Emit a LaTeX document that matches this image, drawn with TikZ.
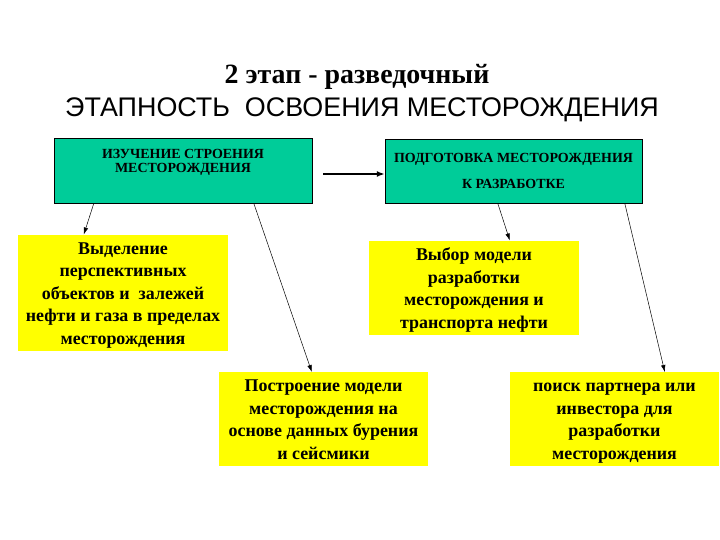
\documentclass[tikz,border=0pt]{standalone}
\usepackage{fontspec}
\setmainfont{Liberation Serif}
\setsansfont{Liberation Sans}
\usepackage{xcolor}
\usepackage{tikz}
\usetikzlibrary{arrows.meta}

\definecolor{fieldgreen}{RGB}{0,204,153}
\definecolor{noteyellow}{RGB}{255,255,0}

\tikzset{
  stagebox/.style={draw=black, fill=fieldgreen, minimum width=258bp, minimum height=64.5bp,
    inner sep=0pt, align=center, font=\bfseries\fontsize{14}{14}\selectfont},
  notebox/.style={fill=noteyellow, minimum width=210bp, inner sep=0pt, align=center,
    font=\bfseries\fontsize{18}{22.5}\selectfont},
  link/.style={->, >={Latex[length=7bp,width=4.5bp]}, line width=0.5bp},
}

\begin{document}
\begin{tikzpicture}[x=1bp,y=-1bp]
\useasboundingbox[fill=white] (0,0) rectangle (720,540);

% titles
\node[font=\bfseries\fontsize{28}{30}\selectfont] (stage) at (357,77) {2 этап - разведочный};
\node[font=\sffamily\fontsize{27}{30}\selectfont] (title) at (362,110) {ЭТАПНОСТЬ\ \ ОСВОЕНИЯ МЕСТОРОЖДЕНИЯ};

% green stages
\node[stagebox, anchor=north, text height=33.5bp, text depth=31bp] (izuch) at (183,138.5)
  {ИЗУЧЕНИЕ СТРОЕНИЯ\\МЕСТОРОЖДЕНИЯ};
\node[stagebox, minimum width=257bp, font=\bfseries\fontsize{14}{25.5}\selectfont] (podg) at (513.5,171)
  {ПОДГОТОВКА МЕСТОРОЖДЕНИЯ\\К РАЗРАБОТКЕ};
\coordinate (go) at (323,174);
\draw[->, >={Latex[length=8bp,width=6bp]}, line width=2bp] (go) -- (go -| podg.west);

% yellow results
\node[notebox, anchor=north, text height=109.5bp, text depth=7bp] (vydel) at (123,234.5)
  {Выделение\\перспективных\\объектов и\ \ залежей\\нефти и газа в пределах\\месторождения};
\node[notebox, anchor=north, text height=87.5bp, text depth=6.5bp] (vybor) at (474,240.5)
  {Выбор модели\\разработки\\месторождения и\\транспорта нефти};
\node[notebox, anchor=north, minimum width=209bp, text height=87bp, text depth=7bp] (postr) at (323.5,372)
  {Построение модели\\месторождения на\\основе данных бурения\\и сейсмики};
\node[notebox, anchor=north, minimum width=209bp, text height=87bp, text depth=7bp] (poisk) at (614.5,372)
  {поиск партнера или\\инвестора для\\разработки\\месторождения};

% links
\draw[link] ([xshift=40bp]izuch.south west) -- ([xshift=66bp]vydel.north west);
\draw[link] ([xshift=200bp]izuch.south west) -- ([xshift=93bp]postr.north west);
\draw[link] ([xshift=113bp]podg.south west) -- ([xshift=141bp]vybor.north west);
\draw[link] ([xshift=240bp]podg.south west) -- ([xshift=155bp]poisk.north west);
\end{tikzpicture}
\end{document}
